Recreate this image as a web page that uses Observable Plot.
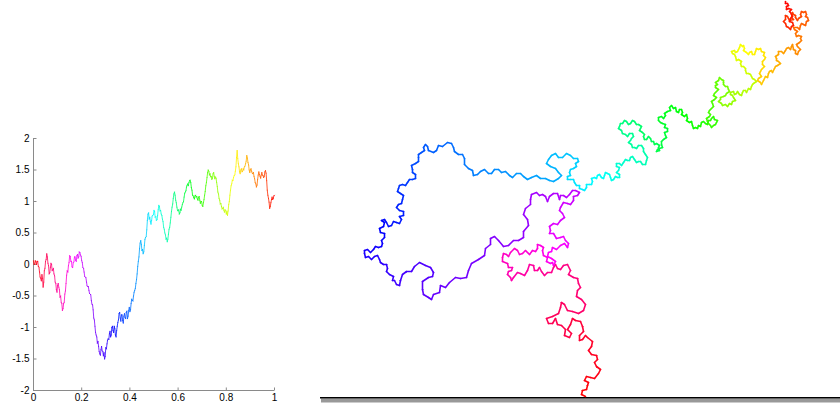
<!DOCTYPE html>
<html><head><meta charset="utf-8">
<script src="https://cdn.jsdelivr.net/npm/d3@7"></script>
<script src="https://cdn.jsdelivr.net/npm/@observablehq/plot@0.6"></script>
<style>
html,body{margin:0;padding:0;background:#fff;}
#wrap{position:relative;width:840px;height:411px;overflow:hidden;background:#fff;}
#left{position:absolute;left:0;top:0;}
#right{position:absolute;left:320px;top:0;}
</style></head><body><div id="wrap"><div id="left"></div><div id="right"></div></div>
<script>
// ---- 1D Brownian path: value at t = 0, 0.0025, ..., 1
const walk1D = [
 0.06,0.00, 0.01,0.06, 0.04,0.00, 0.05,0.05, -0.03,-0.04, -0.12,-0.20, -0.22,-0.26, -0.16,-0.22, -0.36,-0.28, -0.10,-0.06,
 0.05,0.08, 0.17,0.12, 0.02,-0.02, -0.15,-0.13, -0.05,0.02, 0.00,-0.10, -0.08,-0.06, -0.15,-0.18, -0.28,-0.30, -0.40,-0.44,
 -0.33,-0.30, -0.36,-0.40, -0.52,-0.50, -0.60,-0.62, -0.73,-0.70, -0.62,-0.60, -0.47,-0.42, -0.30,-0.17, -0.10,-0.12, -0.02,0.03,
 0.14,0.13, 0.05,0.05, -0.04,-0.05, 0.03,0.04, 0.12,0.12, 0.06,0.05, 0.14,0.16, 0.10,0.12, 0.20,0.19, 0.15,0.13,
 0.06,0.03, -0.05,-0.06, -0.12,-0.19, -0.20,-0.21, -0.28,-0.34, -0.35,-0.35, -0.41,-0.46, -0.47,-0.48, -0.57,-0.63, -0.64,-0.72,
 -0.85,-0.88, -0.98,-1.08, -1.12,-1.15, -1.25,-1.22, -1.30,-1.38, -1.42,-1.44, -1.35,-1.30, -1.37,-1.38, -1.45,-1.40, -1.50,-1.46,
 -1.32,-1.34, -1.26,-1.20, -1.18,-1.19, -1.10,-1.06, -1.15,-1.12, -1.00,-0.98, -1.05,-1.08, -0.98,-1.02, -1.12,-1.15, -1.05,-0.98,
 -0.92,-0.88, -0.78,-0.76, -0.85,-0.90, -0.80,-0.80, -0.89,-0.93, -0.82,-0.78, -0.84,-0.86, -0.76,-0.74, -0.86,-0.82, -0.73,-0.68,
 -0.75,-0.72, -0.62,-0.55, -0.57,-0.58, -0.50,-0.44, -0.41,-0.38, -0.30,-0.24, -0.15,-0.03, 0.05,0.12, 0.25,0.34, 0.38,0.32,
 0.22,0.24, 0.17,0.20, 0.30,0.40, 0.43,0.44, 0.55,0.70, 0.80,0.82, 0.72,0.75, 0.68,0.64, 0.70,0.77, 0.78,0.79,
 0.86,0.84, 0.75,0.76, 0.70,0.71, 0.78,0.87, 0.94,0.92, 0.85,0.86, 0.80,0.78, 0.72,0.68, 0.59,0.56, 0.50,0.47,
 0.40,0.42, 0.36,0.40, 0.48,0.56, 0.59,0.66, 0.75,0.84, 0.91,0.96, 1.05,1.12, 1.15,1.10, 1.02,0.98, 0.91,0.86,
 0.85,0.87, 0.80,0.82, 0.88,0.86, 0.91,0.95, 0.98,1.00, 1.07,1.13, 1.15,1.17, 1.23,1.26, 1.28,1.25, 1.30,1.33,
 1.34,1.30, 1.22,1.18, 1.10,1.09, 1.06,1.04, 1.09,1.10, 1.07,1.08, 1.04,1.02, 1.07,1.08, 1.02,0.97, 1.00,1.00,
 0.94,0.92, 0.98,1.03, 1.10,1.16, 1.25,1.30, 1.38,1.46, 1.50,1.48, 1.42,1.44, 1.39,1.40, 1.35,1.37, 1.44,1.46,
 1.40,1.36, 1.39,1.37, 1.30,1.24, 1.15,1.12, 1.05,1.02, 0.96,0.97, 0.92,0.88, 0.89,0.91, 0.86,0.83, 0.87,0.86,
 0.80,0.84, 0.78,0.85, 0.95,1.00, 1.10,1.18, 1.25,1.28, 1.34,1.33, 1.38,1.41, 1.42,1.48, 1.55,1.70, 1.81,1.68,
 1.60,1.55, 1.47,1.44, 1.50,1.52, 1.47,1.48, 1.52,1.50, 1.55,1.56, 1.60,1.64, 1.73,1.69, 1.62,1.58, 1.50,1.46,
 1.50,1.52, 1.48,1.45, 1.44,1.46, 1.40,1.36, 1.30,1.28, 1.23,1.26, 1.35,1.42, 1.47,1.43, 1.40,1.37, 1.42,1.46,
 1.42,1.41, 1.38,1.40, 1.47,1.49, 1.45,1.33, 1.18,1.10, 1.05,0.99, 0.89,0.92, 0.98,1.03, 1.07,1.03, 1.05,1.09,
 1.10
];
const xTicks = [0, 0.2, 0.4, 0.6, 0.8, 1];
const xTickLabels = ["0", "0.2", "0.4", "0.6", "0.8", "1"];
const yTicks = [-2, -1.5, -1, -0.5, 0, 0.5, 1, 1.5, 2];
const yTickLabels = ["-2", "-1.5", "-1", "-0.5", "0", "0.5", "1", "1.5", "2"];

// ---- 2D Brownian path, [east, south] positions, by colour band
const redStart = [[585,396],[581,394],[582,390],[586,389],[587,385],[588,382],[584,380],[586,376],[590,377],[594,378],[598,373],[600,369],[596,366],[594,362],[597,359],[596,355],[591,354],[588,350],[591,346],[592,341],[587,337],[585,335],[582,339],[579,340],[579,335],[583,331],[582,326],[580,321],[575,320],[572,318],[570,324],[567,329],[571,333],[569,337],[564,335],[565,329],[561,325],[557,324],[555,318],[552,323],[548,323],[546,318],[552,316],[558,313],[560,307],[561,302],[564,304],[567,310],[572,311],[578,313],[583,310],[585,304],[581,299],[576,296],[577,290],[580,287]];
const pinkPart = [[578,283],[577,278],[573,277],[568,274],[570,270],[567,264],[563,265],[560,269],[557,268],[555,264],[553,267],[551,272],[547,272],[544,275],[541,271],[539,267],[537,270],[534,270],[533,265],[529,264],[527,270],[524,275],[520,273],[517,272],[513,277],[511,280],[510,277],[507,274],[508,271],[511,270],[512,267],[508,267],[507,263],[502,261],[502,257],[503,253],[506,254],[508,256],[510,252],[514,248],[517,250],[519,254],[522,253],[525,250],[527,252],[529,254],[532,250],[535,251],[537,248],[537,244],[540,245],[543,247],[542,250],[543,255],[547,257],[546,261],[550,263],[552,262],[553,265],[555,261],[551,258],[547,256],[548,252],[551,251],[552,247],[556,249],[560,245],[564,243],[567,247],[568,243],[565,240],[563,236],[560,237],[556,238],[553,233],[549,233],[550,230],[549,226],[553,223],[557,224],[560,220],[564,217],[562,213],[559,210],[560,207],[563,202],[567,203],[570,204],[573,200],[573,196],[577,195],[579,192]];
const purplePart = [[575,190],[572,190],[569,194],[566,197],[563,195],[560,195],[559,199],[557,193],[553,193],[549,196],[547,201],[545,196],[542,194],[539,195],[536,192],[531,194],[530,199],[530,204],[525,208],[523,214],[527,219],[528,225],[523,231],[523,237],[518,240],[513,240],[508,245],[503,246],[498,240],[494,236],[490,238],[490,244],[485,248],[484,255],[478,259],[471,263],[468,270],[466,277],[460,278],[455,277],[449,282],[445,287],[440,285],[439,292],[433,294],[431,299],[428,297],[423,294],[422,289],[422,281],[428,277],[432,276],[433,272],[430,267],[425,265],[419,262],[414,266],[411,271],[406,271],[402,274],[400,280],[399,285],[396,284],[394,280]];
const bluePart = [[392,280],[393,276],[389,274],[386,271],[387,268],[386,264],[383,264],[380,262],[379,259],[377,255],[374,256],[371,259],[368,256],[365,257],[364,253],[364,250],[367,249],[370,252],[373,249],[375,246],[378,247],[381,246],[382,243],[381,240],[384,237],[384,233],[380,232],[379,228],[383,226],[384,222],[381,220],[384,219],[386,222],[388,226],[391,225],[393,221],[396,222],[399,223],[401,219],[399,216],[403,215],[403,211],[399,210],[396,207],[398,204],[401,203],[402,199],[403,195],[400,193],[397,191],[398,188],[399,185],[402,184],[405,185],[407,182],[409,179],[412,179],[415,178],[415,174],[412,172],[412,169],[411,165],[415,163],[418,161],[418,157],[418,154],[421,152],[424,150],[423,147],[425,144]];
const lightBluePart = [[427,146],[428,150],[433,152],[436,150],[438,145],[442,146],[447,142],[451,143],[453,147],[454,151],[458,154],[462,154],[464,158],[464,164],[468,168],[472,170],[473,175],[477,174],[480,171],[484,169],[488,173],[491,173],[494,169],[498,169],[501,172],[505,171],[509,175],[512,177],[516,173],[520,173],[523,176],[527,179],[531,177],[536,175],[540,178],[545,178],[549,180],[553,181],[558,178],[561,175],[558,172],[555,168],[550,166],[546,163],[548,159],[551,155],[555,153],[558,157],[562,157],[566,153],[570,155],[573,158],[577,158],[578,161]];
const cyanPart = [[575,163],[576,166],[573,168],[570,169],[569,172],[570,175],[567,176],[567,179],[570,179],[573,179],[574,182],[576,185],[579,185],[579,188],[582,189],[584,190],[586,187],[586,184],[589,184],[591,184],[592,181],[591,178],[594,177],[596,178],[597,175],[599,174],[601,177],[603,178],[604,175],[605,172],[607,173],[609,174],[610,177],[611,180],[613,179],[615,176],[617,177],[619,177],[619,174],[616,172],[618,170],[619,167],[616,166],[616,163],[619,163],[621,165],[623,162],[625,159],[627,160],[629,160],[630,157],[632,156],[634,159],[636,162],[638,161],[640,161],[642,164],[645,164],[646,160],[647,157],[645,154],[643,151],[643,148],[641,145]];
const greenPart = [[638,145],[636,148],[634,147],[632,147],[631,144],[628,142],[630,140],[631,138],[633,136],[632,133],[629,133],[627,136],[625,134],[622,133],[621,130],[618,128],[619,126],[620,123],[622,123],[624,120],[626,121],[628,124],[630,123],[632,120],[634,121],[636,124],[638,124],[641,126],[640,128],[639,130],[642,132],[644,134],[643,136],[644,139],[646,139],[648,136],[650,138],[651,141],[653,141],[654,144],[656,143],[659,145],[658,147],[659,150],[656,151],[657,149],[659,148],[662,147],[661,144],[661,141],[663,139],[666,137],[665,135],[664,132],[667,131],[667,128],[664,127],[665,124],[662,123],[660,122],[658,120],[658,117],[661,116],[663,118],[665,115],[664,113],[667,111],[670,110],[669,107],[671,105],[673,108],[675,107],[676,111],[678,112],[679,109],[681,109],[682,112],[681,114],[684,116],[686,114],[687,118],[686,120],[689,122],[691,121],[692,125],[693,128],[695,127],[697,128],[698,125],[700,126],[701,122],[703,121],[705,123],[707,124],[708,120],[710,120],[711,118],[713,116],[714,119],[717,120],[716,122],[715,124],[713,125],[711,127],[710,125],[708,123],[707,121],[706,118],[709,116],[710,114],[708,112],[709,110],[711,108],[713,106],[712,103],[711,101],[714,99],[716,97],[713,95],[714,93],[716,91],[718,89],[715,87],[715,85],[717,84],[715,82],[718,80],[719,77],[721,79],[723,80],[723,82],[723,84]];
const yellowPart = [[725,86],[727,86],[728,89],[729,91],[726,93],[725,95],[723,96],[720,97],[720,99],[718,101],[721,103],[722,105],[725,104],[727,106],[729,103],[731,104],[732,101],[735,100],[733,97],[732,95],[730,94],[730,92],[733,91],[734,94],[736,93],[737,91],[739,94],[741,95],[742,92],[743,90],[745,90],[746,92],[748,88],[750,89],[751,86],[752,84],[753,83],[756,81],[754,79],[752,78],[751,76],[750,74],[748,73],[746,73],[745,70],[745,68],[743,66],[741,66],[740,63],[741,61],[738,59],[736,60],[735,56],[734,54],[732,53],[731,51],[734,50],[735,52],[737,51],[738,49],[739,47],[740,44],[742,46],[743,45],[744,48],[743,50],[746,52],[748,54],[749,52],[751,51],[752,54],[754,54],[755,51],[756,48],[758,49],[760,48],[761,51],[764,52],[763,55],[765,57],[764,59],[762,61],[762,64],[764,66],[761,69],[760,71],[759,73],[761,76],[758,78],[757,80],[760,82],[761,84],[763,80]];
const orangeEnd = [[765,76],[767,77],[768,73],[769,71],[771,70],[772,72],[774,68],[775,66],[777,65],[780,63],[778,61],[776,60],[776,58],[775,56],[778,54],[778,51],[781,51],[783,53],[785,50],[786,48],[788,47],[790,49],[791,46],[792,44],[793,49],[795,50],[795,53],[797,54],[798,51],[800,49],[797,46],[796,44],[799,42],[801,40],[800,38],[801,36],[798,35],[796,36],[795,33],[797,31],[794,29],[793,27],[797,27],[799,29],[800,25],[801,23],[803,24],[805,25],[806,21],[808,20],[807,17],[805,16],[806,14],[805,11],[803,12],[801,11],[800,14],[801,16],[798,18],[797,20],[795,17],[795,15],[793,14],[792,12],[791,17],[793,19],[789,20],[788,18],[787,16],[785,15],[785,19],[783,21],[785,23],[786,26],[788,27],[790,29],[791,26],[793,25],[792,22],[789,21],[790,18],[792,16],[791,14],[790,12],[789,11],[791,9],[788,8],[786,9],[786,6],[788,5],[787,3],[785,3],[785,1]];
const floorLevel = 397.3;

// hsv-like hue running backwards with time
const hueOf = t => d3.hsl(360 * (1 - t), 1, 0.5).formatRgb();

// ---- left chart
const n1 = walk1D.length;
const seg1 = [];
for (let i = 1; i < n1; ++i) {
  const t0 = (i - 1) / (n1 - 1), t1 = i / (n1 - 1);
  seg1.push({x1: t0, y1: walk1D[i - 1], x2: t1, y2: walk1D[i], c: hueOf((t0 + t1) / 2)});
}
const font = "'Liberation Sans', Arial, Helvetica, sans-serif";
const axisGray = "#8a8a8a";
const left = Plot.plot({
  width: 290, height: 411,
  marginLeft: 33, marginRight: 16, marginTop: 138, marginBottom: 21,
  style: {fontFamily: font, fontSize: "10px", background: "transparent", overflow: "visible"},
  x: {domain: [0, 1], axis: null},
  y: {domain: [-2, 2], axis: null},
  color: {type: "identity"},
  marks: [
    Plot.ruleX([0], {stroke: axisGray, strokeWidth: 1}),
    Plot.ruleY([-2], {stroke: axisGray, strokeWidth: 1}),
    Plot.link(yTicks, {x1: 0, x2: 0.0125, y1: d => d, y2: d => d, stroke: axisGray}),
    Plot.link(xTicks, {x1: d => d, x2: d => d, y1: -2, y2: -1.952, stroke: axisGray}),
    Plot.link(seg1, {x1: "x1", y1: "y1", x2: "x2", y2: "y2", stroke: "c", strokeWidth: 0.8, strokeLinecap: "round"}),
    Plot.text(yTicks, {x: 0, y: d => d, text: (d, i) => yTickLabels[i], textAnchor: "end", dx: -4, fill: "#000", fontSize: 10}),
    Plot.text(xTicks, {x: d => d, y: -2, text: (d, i) => xTickLabels[i], dy: 7, fill: "#000", fontSize: 10})
  ]
});
document.getElementById("left").appendChild(left);

// ---- right chart
const path2D = [].concat(redStart, pinkPart, purplePart, bluePart, lightBluePart, cyanPart, greenPart, yellowPart, orangeEnd);
const n2 = path2D.length;
const seg2 = [];
for (let i = 1; i < n2; ++i) {
  seg2.push({x1: path2D[i - 1][0], y1: path2D[i - 1][1], x2: path2D[i][0], y2: path2D[i][1], c: hueOf((i - 0.5) / (n2 - 1))});
}
const right = Plot.plot({
  width: 520, height: 411,
  marginLeft: 0, marginRight: 0, marginTop: 0, marginBottom: 0,
  style: {background: "transparent"},
  x: {domain: [320, 840], axis: null},
  y: {domain: [0, 411], reverse: true, axis: null},
  color: {type: "identity"},
  marks: [
    Plot.ruleY([floorLevel + 2.7], {x1: 321, x2: 840, stroke: "#999", strokeWidth: 4}),
    Plot.ruleY([floorLevel], {x1: 320, x2: 840, stroke: "#000", strokeWidth: 1.4}),
    Plot.link(seg2, {x1: "x1", y1: "y1", x2: "x2", y2: "y2", stroke: "c", strokeWidth: 1.6, strokeLinecap: "round", strokeLinejoin: "round"})
  ]
});
document.getElementById("right").appendChild(right);
</script>
</body></html>
